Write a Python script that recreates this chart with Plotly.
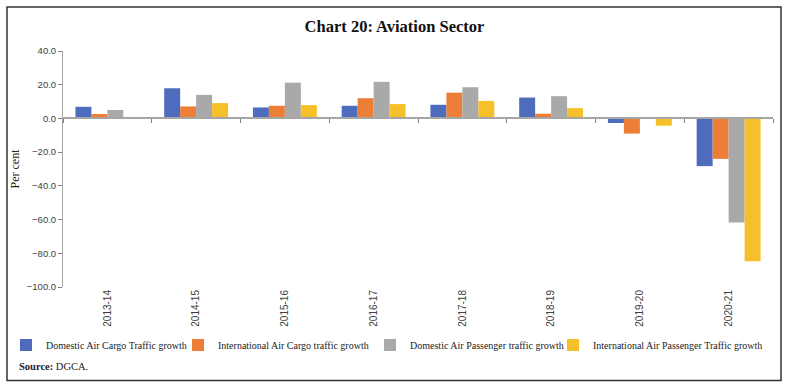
import plotly.graph_objects as go

years = ["2013-14", "2014-15", "2015-16", "2016-17", "2017-18", "2018-19", "2019-20", "2020-21"]
dom_cargo = [6.9, 17.9, 6.5, 7.5, 8.1, 12.4, -2.7, -28.3]
intl_cargo = [2.6, 7.1, 7.5, 12.0, 15.3, 2.8, -9.0, -24.0]
dom_pass = [5.0, 14.0, 21.2, 21.7, 18.5, 13.2, 0.0, -61.7]
intl_pass = [None, 9.1, 7.9, 8.5, 10.4, 6.1, -4.3, -84.7]

series = [
    ("Domestic Air Cargo Traffic growth", dom_cargo, "#4E6BBE", "legend", 0.0076),
    ("International Air Cargo traffic growth", intl_cargo, "#EC7E38", "legend2", 0.2256),
    ("Domestic Air Passenger traffic growth", dom_pass, "#A9A9A9", "legend3", 0.4690),
    ("International Air Passenger Traffic growth", intl_pass, "#F6C02A", "legend4", 0.7009),
]

fig = go.Figure()
for name, vals, color, leg, _ in series:
    fig.add_trace(go.Bar(x=years, y=vals, name=name, marker_color=color,
                         marker_line_width=0, legend=leg))

# invisible trace to carry the zero-positioned axis with boundary ticks
fig.add_trace(go.Scatter(x=years, y=[None] * len(years), xaxis="x2", yaxis="y",
                         mode="markers", showlegend=False, hoverinfo="skip"))

legfont = dict(family="Liberation Serif", size=10, color="#222222")
layout_legends = {}
for name, vals, color, leg, xpos in series:
    layout_legends[leg] = dict(x=xpos, y=0.1131, xref="container", yref="container",
                               xanchor="left", yanchor="middle",
                               orientation="h", font=legfont, itemwidth=30,
                               bgcolor="rgba(0,0,0,0)")

fig.update_layout(
    width=789, height=389,
    margin=dict(l=63, r=16, t=51, b=102, autoexpand=False),
    paper_bgcolor="white", plot_bgcolor="white",
    barmode="group", bargap=0.28, bargroupgap=0,
    title=dict(text="<b>Chart 20: Aviation Sector</b>", x=0.5, xref="container",
               y=0.933, yref="container", yanchor="middle",
               font=dict(family="Liberation Serif", size=16.5, color="#111111")),
    xaxis=dict(type="category", showline=False, ticks="", tickangle=-90, automargin=False,
               tickfont=dict(family="Liberation Sans", size=10, color="#404040"),
               showgrid=False, zeroline=False),
    xaxis2=dict(type="category", matches="x", overlaying="x", anchor="free",
                position=100 / 140, showline=True, linecolor="#A6A6A6", linewidth=1.5,
                ticks="outside", ticklen=4, tickcolor="#7F7F7F", tickson="boundaries",
                showticklabels=False, showgrid=False, zeroline=False, automargin=False),
    yaxis=dict(range=[-100, 40], dtick=20, tickformat=".1f", showgrid=False, automargin=True,
               zeroline=False, showline=True, linecolor="#A6A6A6", linewidth=1,
               ticks="outside", ticklen=4, tickcolor="#7F7F7F",
               tickfont=dict(family="Liberation Sans", size=9.5, color="#404040"),
               title=dict(text="Per cent", standoff=4,
                          font=dict(family="Liberation Serif", size=12, color="#222222"))),
    annotations=[dict(text="<b>Source:</b> DGCA.", xref="paper", yref="paper",
                      x=-0.0648, y=-0.335, xanchor="left", yanchor="middle",
                      showarrow=False,
                      font=dict(family="Liberation Serif", size=10.5, color="#222222"))],
    shapes=[dict(type="rect", xref="paper", yref="paper",
                 x0=-0.0789, x1=1.0113, y0=-0.3966, y1=1.1864,
                 line=dict(color="#333333", width=1.5), fillcolor="rgba(0,0,0,0)")],
    **layout_legends,
)

fig.write_html("out.html", config={"displayModeBar": False},
               post_script="document.body.style.margin='0px';")
